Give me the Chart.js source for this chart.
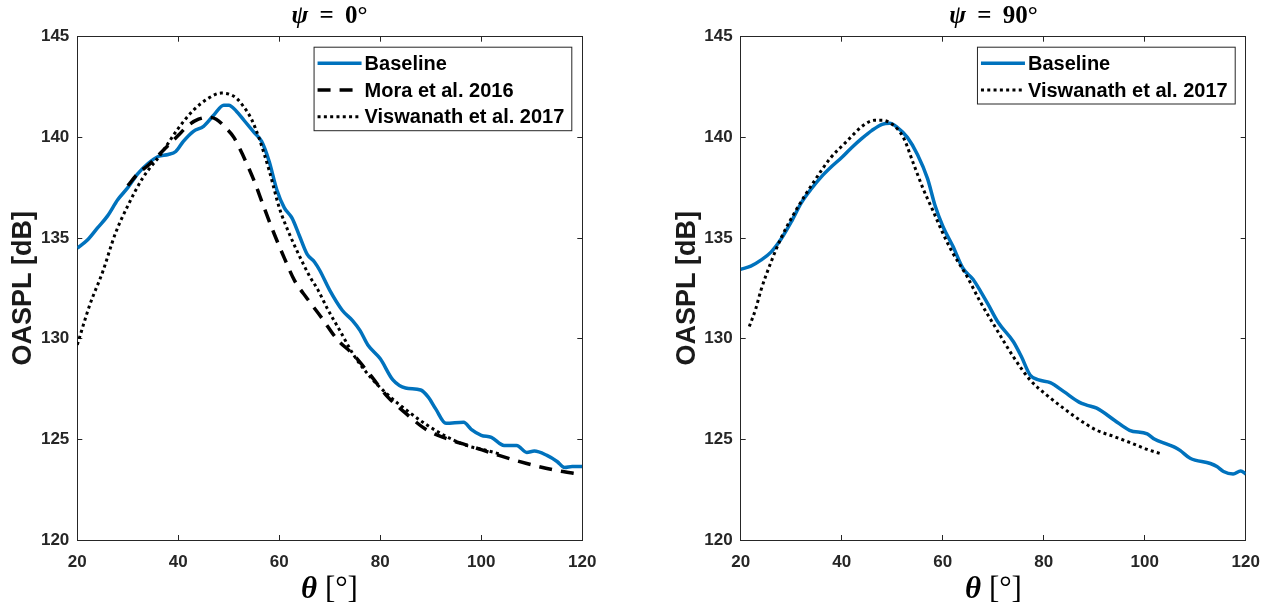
<!DOCTYPE html>
<html>
<head>
<meta charset="utf-8">
<script src="https://cdn.jsdelivr.net/npm/chart.js@4.4.1/dist/chart.umd.min.js"></script>
<style>
  html, body { margin: 0; padding: 0; background: #fff; width: 1271px; height: 608px; overflow: hidden; }
  canvas { position: absolute; top: 0; }
  .math { position: absolute; text-align: center; font-family: "Liberation Serif", "DejaVu Serif", serif; color: #000; white-space: nowrap; }
  .ttl { font-size: 25px; font-weight: bold; line-height: 28px; }
  .xl { font-size: 31px; line-height: 34px; }
</style>
</head>
<body>
<canvas id="left" width="635" height="608" style="left:0"></canvas>
<canvas id="right" width="636" height="608" style="left:635px"></canvas>

<div class="math ttl" style="left:77px;width:505px;top:1px"><i>ψ</i>&thinsp;&nbsp;=&nbsp;&thinsp;0°</div>
<div class="math ttl" style="left:741px;width:505px;top:1px"><i>ψ</i>&thinsp;&nbsp;=&nbsp;&thinsp;90°</div>
<div class="math xl" style="left:77px;width:505px;top:571px"><b><i>θ</i></b>&nbsp;[°]</div>
<div class="math xl" style="left:741px;width:505px;top:571px"><b><i>θ</i></b>&nbsp;[°]</div>

<script>
// ---- data ----
const xTicks = [20, 40, 60, 80, 100, 120];
const yTicks = [120, 125, 130, 135, 140, 145];

// psi = 0
const thetaBase0 = [20, 22, 24, 26, 28, 30, 32, 34, 36, 38, 39.5, 41, 43, 45, 47, 49, 50, 51.5, 53, 55, 56.5, 58, 59.5, 61, 62.5, 64, 65.5, 67, 68, 70, 72.5, 74.5, 76, 77.5, 80, 82.5, 85, 88, 89.5, 91, 93, 96.5, 98, 100, 102, 104.5, 107, 109, 110.5, 113, 115, 116.5, 118, 120];
const oasplBase0 = [134.5, 134.9, 135.5, 136.1, 136.9, 137.5, 138.2, 138.7, 139.05, 139.15, 139.3, 139.8, 140.3, 140.55, 141.1, 141.6, 141.6, 141.3, 140.85, 140.25, 139.8, 138.8, 137.4, 136.5, 136.0, 135.1, 134.2, 133.8, 133.4, 132.4, 131.4, 130.9, 130.4, 129.7, 129.0, 127.95, 127.55, 127.45, 127.1, 126.5, 125.8, 125.85, 125.5, 125.2, 125.1, 124.7, 124.7, 124.35, 124.42, 124.2, 123.9, 123.6, 123.65, 123.65];

const thetaMora0 = [30, 32, 34, 36, 38, 40, 42, 44, 46, 47.5, 49.5, 51, 53, 55, 57, 59, 61, 63, 65.5, 68.5, 71.5, 74.5, 78, 81.5, 85, 89, 93, 98, 103.5, 109, 114, 120];
const oasplMora0 = [137.6, 138.2, 138.6, 139.1, 139.6, 140.1, 140.6, 140.9, 141.0, 140.9, 140.45, 140.0, 139.0, 137.85, 136.5, 135.2, 134.0, 132.9, 132.0, 131.0, 129.95, 129.25, 128.2, 127.1, 126.3, 125.5, 125.05, 124.65, 124.2, 123.8, 123.5, 123.25];

const thetaVis0 = [20, 22.5, 25, 27.5, 30, 33, 36.5, 40, 43, 46, 48.5, 50, 51.5, 53, 54.5, 56, 58, 60, 62, 64, 66, 67.7, 69.5, 72, 74.7, 78, 82, 85.2, 89, 93, 97, 101, 104];
const oasplVis0 = [129.7, 131.7, 133.3, 135.2, 136.6, 138.0, 139.15, 140.45, 141.35, 141.95, 142.2, 142.15, 141.95, 141.5, 140.9, 139.95, 138.35, 136.5, 135.2, 134.1, 133.1, 132.4, 131.5, 130.4, 129.2, 128.1, 127.1, 126.45, 125.75, 125.15, 124.7, 124.45, 124.25];

// psi = 90
const thetaBase90 = [20, 22, 24, 26, 28, 30, 32, 34, 36, 38, 40, 42, 44, 46, 48, 49.5, 51, 53, 55, 57, 58.5, 60, 62, 64, 66, 67.5, 69, 71, 74, 75.6, 77.3, 79, 81.3, 84, 87, 88.5, 90.5, 94, 97, 100.5, 102, 104, 106, 107, 109, 113, 114.3, 115.6, 117.5, 119, 120];
const oasplBase90 = [133.45, 133.6, 133.9, 134.3, 134.95, 135.8, 136.75, 137.45, 138.05, 138.55, 139.0, 139.5, 139.95, 140.35, 140.65, 140.7, 140.5, 140.0, 139.15, 137.95, 136.6, 135.6, 134.6, 133.5, 132.95, 132.35, 131.7, 130.8, 129.85, 129.1, 128.2, 127.95, 127.82, 127.37, 126.85, 126.7, 126.55, 125.95, 125.45, 125.27, 125.0, 124.8, 124.6, 124.45, 124.06, 123.8, 123.65, 123.4, 123.28, 123.43, 123.28];

const thetaVis90 = [21.7, 23, 24, 26, 28, 31, 34.5, 37.7, 41, 44.3, 46.5, 48, 50, 52.2, 54.2, 56.2, 58, 60, 62, 64.8, 67.4, 70.7, 74, 77.3, 80.6, 83.9, 87.2, 90.5, 93.8, 97, 100.5, 103];
const oasplVis90 = [130.6, 131.5, 132.4, 133.8, 135.0, 136.4, 137.8, 138.95, 139.8, 140.6, 140.85, 140.85, 140.65, 140.0, 138.7, 137.4, 136.4, 135.25, 134.25, 133.1, 131.85, 130.45, 129.1, 127.95, 127.2, 126.55, 125.95, 125.45, 125.15, 124.85, 124.5, 124.3];

const BLUE = '#0072BD';
const AXIS = '#262626';
const SANS = '"Liberation Sans", Arial, Helvetica, sans-serif';

function pts(xs, ys) {
  return xs.map((x, i) => ({ x: x, y: ys[i] }));
}

function baselineSet(xs, ys) {
  return { label: 'Baseline', data: pts(xs, ys), borderColor: BLUE, borderWidth: 3.5, order: 2 };
}
function moraSet(xs, ys) {
  return { label: 'Mora et al. 2016', data: pts(xs, ys), borderColor: '#000', borderWidth: 3.5, borderDash: [13, 9], order: 1 };
}
function visSet(xs, ys) {
  return { label: 'Viswanath et al. 2017', data: pts(xs, ys), borderColor: '#000', borderWidth: 3, borderDash: [3, 3.3], order: 0 };
}

// boxed legend in the upper right corner of the axes, MATLAB style
const boxLegend = {
  id: 'boxLegend',
  afterDraw(chart) {
    const { ctx, chartArea } = chart;
    const sets = chart.data.datasets;
    ctx.save();
    ctx.font = 'bold 20px ' + SANS;
    const textW = Math.max(...sets.map(d => ctx.measureText(d.label).width));
    const w = 51 + textW + 7;
    const h = 16.6 + 26.7 * (sets.length - 1) + 13.5;
    const x = chartArea.right - 11 - w;
    const y = chartArea.top + 10;
    ctx.fillStyle = '#fff';
    ctx.fillRect(x, y, w, h);
    ctx.strokeStyle = AXIS;
    ctx.lineWidth = 1;
    ctx.strokeRect(x + 0.5, y + 0.5, w, h);
    sets.forEach((d, i) => {
      const cy = y + 16.6 + 26.7 * i;
      ctx.beginPath();
      ctx.setLineDash(d.borderDash || []);
      ctx.strokeStyle = d.borderColor;
      ctx.lineWidth = d.borderWidth;
      ctx.moveTo(x + 4, cy);
      ctx.lineTo(x + 48, cy);
      ctx.stroke();
      ctx.setLineDash([]);
      ctx.fillStyle = '#000';
      ctx.textBaseline = 'middle';
      ctx.textAlign = 'left';
      ctx.fillText(d.label, x + 51, cy + 1);
    });
    ctx.restore();
  }
};

function inwardGrid() {
  return { drawOnChartArea: false, drawTicks: true, tickLength: -5, color: AXIS, lineWidth: 1 };
}

function makeChart(id, datasets, leftW, rightW, yTitlePad) {
  const tickFont = { family: SANS, size: 17, weight: 'bold' };
  new Chart(document.getElementById(id), {
    type: 'line',
    data: { datasets: datasets },
    options: {
      responsive: false,
      animation: false,
      layout: { padding: 0 },
      elements: {
        point: { radius: 0 },
        line: { cubicInterpolationMode: 'monotone', fill: false, borderCapStyle: 'butt' }
      },
      plugins: { legend: { display: false }, tooltip: { enabled: false } },
      scales: {
        x: {
          type: 'linear', position: 'bottom', min: 20, max: 120,
          afterBuildTicks: s => { s.ticks = xTicks.map(v => ({ value: v })); },
          ticks: { font: tickFont, color: AXIS, padding: 17, maxRotation: 0 },
          grid: inwardGrid(),
          border: { color: AXIS, width: 1 },
          afterFit: s => { s.height = 68; s.paddingLeft = 0; s.paddingRight = 0; }
        },
        x2: {
          type: 'linear', position: 'top', min: 20, max: 120,
          afterBuildTicks: s => { s.ticks = xTicks.map(v => ({ value: v })); },
          ticks: { display: false },
          grid: inwardGrid(),
          border: { color: AXIS, width: 1 },
          afterFit: s => { s.height = 36.7; s.paddingLeft = 0; s.paddingRight = 0; }
        },
        y: {
          type: 'linear', position: 'left', min: 120, max: 145,
          afterBuildTicks: s => { s.ticks = yTicks.map(v => ({ value: v })); },
          ticks: { font: tickFont, color: AXIS, padding: 13 },
          grid: inwardGrid(),
          border: { color: AXIS, width: 1 },
          title: {
            display: true, text: 'OASPL [dB]', color: '#1a1a1a',
            font: { family: SANS, size: 27, weight: 'bold' },
            padding: { top: yTitlePad, bottom: 0 }
          },
          afterFit: s => { s.width = leftW; s.paddingTop = 0; s.paddingBottom = 0; }
        },
        y2: {
          type: 'linear', position: 'right', min: 120, max: 145,
          afterBuildTicks: s => { s.ticks = yTicks.map(v => ({ value: v })); },
          ticks: { display: false },
          grid: inwardGrid(),
          border: { color: AXIS, width: 1 },
          afterFit: s => { s.width = rightW; s.paddingTop = 0; s.paddingBottom = 0; }
        }
      }
    },
    plugins: [boxLegend]
  });
}

makeChart('left', [
  baselineSet(thetaBase0, oasplBase0),
  moraSet(thetaMora0, oasplMora0),
  visSet(thetaVis0, oasplVis0)
], 77.3, 52.7, 7.8);

makeChart('right', [
  baselineSet(thetaBase90, oasplBase90),
  visSet(thetaVis90, oasplVis90)
], 105.7, 25.3, 36.8);
</script>
</body>
</html>
